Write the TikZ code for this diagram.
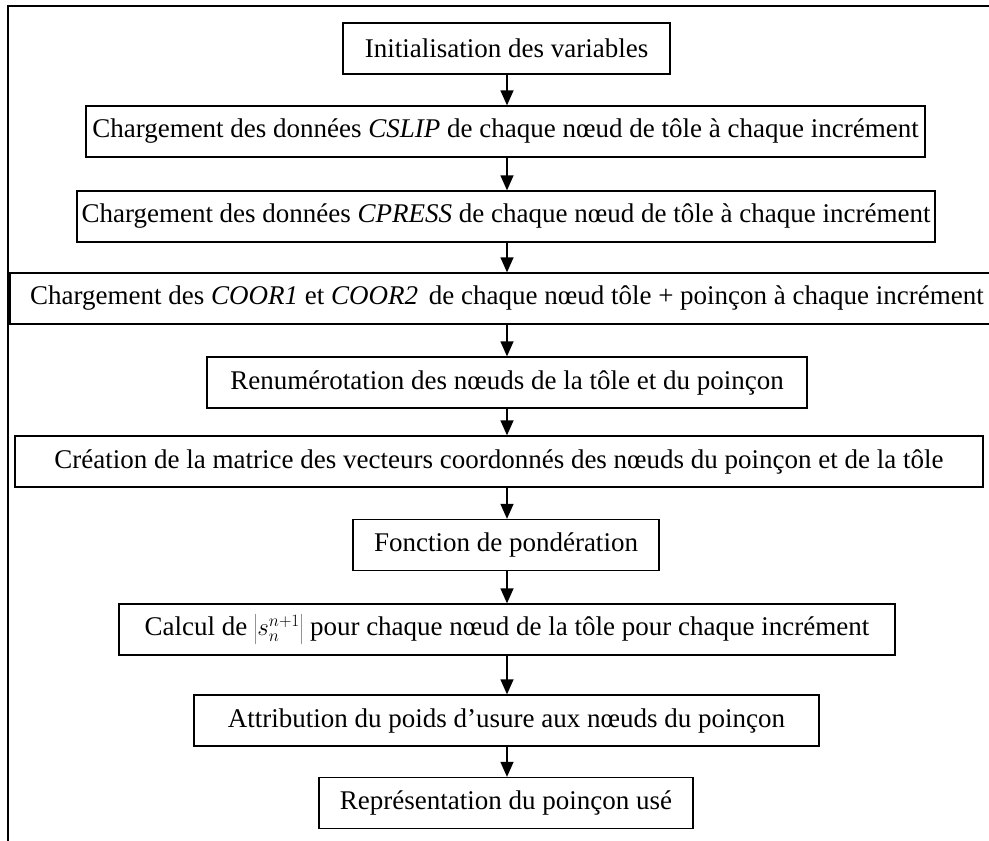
\documentclass[tikz,border=0pt]{standalone}
\usepackage{fontspec}
\setmainfont{Liberation Serif}
\usetikzlibrary{arrows.meta}
\tikzset{
  etape/.style={draw, line width=1.3pt, inner xsep=4pt, inner ysep=0pt, minimum height=51pt,
    font=\fontsize{27}{32}\selectfont},
  fleche/.style={line width=1.3pt, -{Triangle[width=13pt,length=15pt]}}
}
\begin{document}
\begin{tikzpicture}[x=1pt,y=-1pt]
        \useasboundingbox (0,0) rectangle (989,841);
        % cadre
        \draw[line width=1.3pt] (8,845) -- (8,6) -- (995,6);
        \coordinate (axe) at (507,0);

        % etapes
        \node[etape, minimum width=327pt] (init) at (506.5,48.5) {Initialisation des variables};
        \node[etape, minimum width=839pt] (cslip) at (505.5,131.5)
             {Chargement des données \textit{CSLIP} de chaque nœud de tôle à chaque incrément};
        \node[etape, minimum width=858pt] (cpress) at (506,216.5)
             {Chargement des données \textit{CPRESS} de chaque nœud de tôle à chaque incrément};
        \node[etape, minimum width=994pt] (coor) at (507,298.5)
             {Chargement des \textit{COOR1} et \textit{COOR2}\hspace{4pt} de chaque nœud tôle + poinçon à chaque incrément};
        \node[etape, minimum width=600pt] (renum) at (507,382.5)
             {Renumérotation des nœuds de la tôle et du poinçon};
        \node[etape, minimum width=968pt] (matrice) at (499,461.5)
             {Création de la matrice des vecteurs coordonnés des nœuds du poinçon et de la tôle};
        \node[etape, minimum width=306pt] (ponder) at (506,545)
             {Fonction de pondération};
        \node[etape, minimum width=776pt] (calcul) at (507,629.5)
             {Calcul de {\fontsize{24}{24}\selectfont$\left|s_n^{n+1}\right|$} pour chaque nœud de la tôle pour chaque incrément};
        \node[etape, minimum width=625pt] (attrib) at (506.5,720.5)
             {Attribution du poids d’usure aux nœuds du poinçon};
        \node[etape, minimum width=374pt] (repres) at (506,803)
             {Représentation du poinçon usé};

        % fleches
        \draw[fleche] (axe |- init.south) -- (axe |- cslip.north);
        \draw[fleche] (axe |- cslip.south) -- (axe |- cpress.north);
        \draw[fleche] (axe |- cpress.south) -- (axe |- coor.north);
        \draw[fleche] (axe |- coor.south) -- (axe |- renum.north);
        \draw[fleche] (axe |- renum.south) -- (axe |- matrice.north);
        \draw[fleche] (axe |- matrice.south) -- (axe |- ponder.north);
        \draw[fleche] (axe |- ponder.south) -- (axe |- calcul.north);
        \draw[fleche] (axe |- calcul.south) -- (axe |- attrib.north);
        \draw[fleche] (axe |- attrib.south) -- (axe |- repres.north);
\end{tikzpicture}
\end{document}
